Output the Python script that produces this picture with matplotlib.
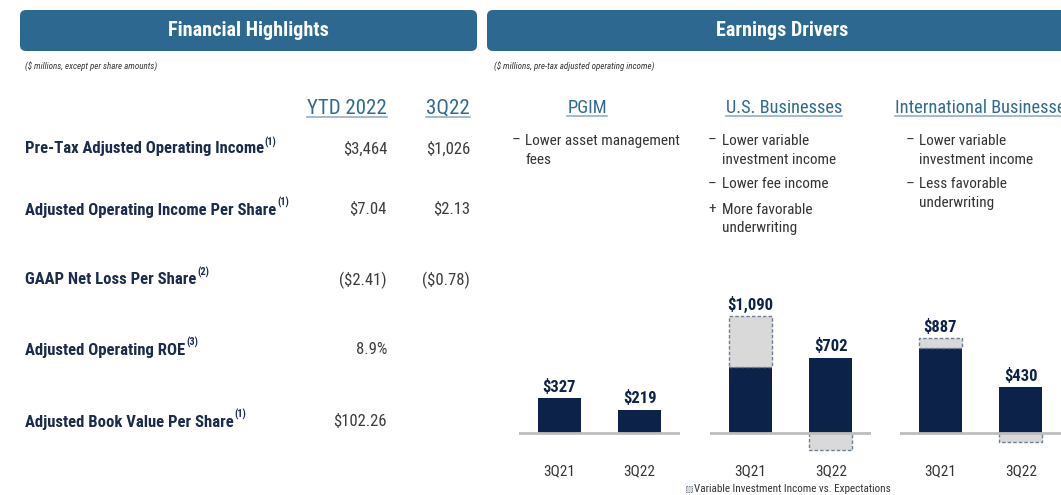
import os
import matplotlib
matplotlib.use("Agg")
import matplotlib.pyplot as plt
from matplotlib import font_manager as fm
from matplotlib.patches import FancyBboxPatch, Rectangle
from matplotlib.lines import Line2D

# ---------- pick a condensed font if one is installed ----------
def _pick_condensed():
    groups = {}
    bad = ("semi", "extra", "ultra", "light", "thin", "medium", "black", "[", "variable")
    for f in fm.fontManager.ttflist:
        b = os.path.basename(f.fname).lower()
        if not ("condensed" in b or "narrow" in b):
            continue
        if any(k in b for k in bad):
            continue
        bold = ("bold" in b) or (isinstance(f.weight, int) and f.weight >= 600)
        ital = ("italic" in b) or ("oblique" in b) or f.style != "normal"
        key = ("b" if bold else "r") + ("i" if ital else "")
        groups.setdefault(f.name + "|" + b.split("-")[0].replace("condensed", "").replace("narrow", ""), {})[key] = f.fname
    order = ["liberation", "roboto", "noto sans", "open sans", "dejavu sans", "lato"]
    best = None
    for pref in order:
        for g, d in groups.items():
            gl = g.lower()
            if gl.startswith(pref) and "cjk" not in gl and "mono" not in gl \
                    and "serif" not in gl and "r" in d and "b" in d:
                best = d
                break
        if best:
            break
    if best is None:
        for g, d in groups.items():
            if "r" in d and "b" in d and "mono" not in g.lower():
                best = d
                break
    return best

_cond = _pick_condensed()
if _cond:
    FP = {"r": fm.FontProperties(fname=_cond["r"]),
          "b": fm.FontProperties(fname=_cond["b"]),
          "i": fm.FontProperties(fname=_cond.get("ri", _cond["r"]))}
else:
    FP = {"r": fm.FontProperties(family="DejaVu Sans"),
          "b": fm.FontProperties(family="DejaVu Sans", weight="bold"),
          "i": fm.FontProperties(family="DejaVu Sans", style="italic")}

# ---------------- data ----------------
metric_labels = ["Pre-Tax Adjusted Operating Income",
                 "Adjusted Operating Income Per Share",
                 "GAAP Net Loss Per Share",
                 "Adjusted Operating ROE",
                 "Adjusted Book Value Per Share"]
metric_notes = ["(1)", "(1)", "(2)", "(3)", "(1)"]
col_headers = ["YTD 2022", "3Q22"]
ytd_values = ["$3,464", "$7.04", "($2.41)", "8.9%", "$102.26"]
q_values = ["$1,026", "$2.13", "($0.78)", "", ""]

segments = ["PGIM", "U.S. Businesses", "International Businesses"]
periods = ["3Q21", "3Q22"]
pgim_income = [327, 219]
us_income = [1090, 702]
intl_income = [887, 430]
pgim_vii = [0, 0]          # variable investment income vs. expectations
us_vii = [475, -160]
intl_vii = [95, -80]

pgim_drivers = [("–", "Lower asset management\nfees")]
us_drivers = [("–", "Lower variable\ninvestment income"),
              ("–", "Lower fee income"),
              ("+", "More favorable\nunderwriting")]
intl_drivers = [("–", "Lower variable\ninvestment income"),
                ("–", "Less favorable\nunderwriting")]

# ---------------- styling ----------------
W, H = 1061, 495
HEAD_BG = "#2D6891"
NAVY = "#0C2248"
LABEL = "#1A2B4C"
VALUE = "#3C3C3C"
LINK = "#2F6B8F"
GREY_FILL = "#D9D9D9"
GREY_EDGE = "#6E7F95"
BASE = "#BDBDBD"


def fp(kind, size):
    p = FP[kind].copy()
    p.set_size(size)
    return p


fig = plt.figure(figsize=(W / 100, H / 100), dpi=100)
bg = fig.add_axes([0, 0, 1, 1])
bg.set_xlim(0, W)
bg.set_ylim(H, 0)
bg.axis("off")

# header bars
for x0, x1, title, cx in [(20, 477, "Financial Highlights", 248),
                          (487, 1075, "Earnings Drivers", 782)]:
    bg.add_patch(FancyBboxPatch((x0, 10), x1 - x0, 41,
                                boxstyle="round,pad=0,rounding_size=6",
                                fc=HEAD_BG, ec="none"))
    bg.text(cx, 31, title, color="white", fontproperties=fp("b", 14.5),
            ha="center", va="center")

bg.text(25, 66, "($ millions, except per share amounts)", fontproperties=fp("i", 6.5),
        color="#333333", va="center")
bg.text(494, 66, "($ millions, pre-tax adjusted operating income)", fontproperties=fp("i", 6.5),
        color="#333333", va="center")

underlined = []

# ---- left table ----
for hx, h in zip([387, 470], col_headers):
    t = bg.text(hx, 108, h, fontproperties=fp("r", 15), color=LINK, ha="right", va="center")
    underlined.append(t)

row_y = [149, 210, 280, 350, 422]
for y, lab, note, v1, v2 in zip(row_y, metric_labels, metric_notes, ytd_values, q_values):
    t = bg.text(25, y, lab, fontproperties=fp("b", 12), color=LABEL,
                ha="left", va="center")
    bg.annotate(note, xy=(1, 0.6), xycoords=t, xytext=(0.5, 0),
                textcoords="offset points", fontproperties=fp("b", 7.5),
                color=LABEL, ha="left", va="bottom")
    bg.text(387, y, v1, fontproperties=fp("r", 12), color=VALUE, ha="right", va="center")
    if v2:
        bg.text(470, y, v2, fontproperties=fp("r", 12), color=VALUE, ha="right", va="center")

# ---- right: segment headings and drivers ----
head_specs = [(587, "center"), (784, "center"), (895, "left")]
driver_specs = [(512, 525, pgim_drivers), (708, 722, us_drivers), (906, 919, intl_drivers)]
for (hx, ha), name in zip(head_specs, segments):
    t = bg.text(hx, 108, name, fontproperties=fp("r", 13.2), color=LINK, ha=ha, va="center")
    underlined.append(t)

line_h = 18.5
for dx, tx, items in driver_specs:
    y = 141
    for sym, txt in items:
        bg.text(dx, y, sym, fontproperties=fp("r", 11), color="#333333", ha="left", va="center")
        lines = txt.split("\n")
        for k, ln in enumerate(lines):
            bg.text(tx, y + k * line_h, ln, fontproperties=fp("r", 11), color="#333333",
                    ha="left", va="center")
        y += line_h * len(lines) + 6.5

# ---- bar panels ----
S = 0.107            # pixels per $M
YMIN, YMAX = -270, 1340
BASE_PX = H - 433
ax_bottom = BASE_PX + YMIN * S
ax_height = (YMAX - YMIN) * S
panel_left = [519, 710, 900]
panel_w = 161
incomes = [pgim_income, us_income, intl_income]
viis = [pgim_vii, us_vii, intl_vii]

for left, inc, vii in zip(panel_left, incomes, viis):
    ax = fig.add_axes([left / W, ax_bottom / H, panel_w / W, ax_height / H])
    ax.set_xlim(-0.5, 1.5)
    ax.set_ylim(YMIN, YMAX)
    ax.patch.set_alpha(0)
    for sp in ax.spines.values():
        sp.set_visible(False)
    ax.set_yticks([])
    xs = list(range(len(periods)))
    core = [v - max(g, 0) for v, g in zip(inc, vii)]
    ax.bar(xs, core, width=0.53, color=NAVY, zorder=2)
    for x, c, g, v in zip(xs, core, vii, inc):
        if g > 0:
            ax.bar(x, g, bottom=c, width=0.53, color=GREY_FILL, ec=GREY_EDGE,
                   lw=1.0, ls=(0, (2.5, 1.5)), zorder=2)
        elif g < 0:
            ax.bar(x, g, bottom=0, width=0.53, color=GREY_FILL, ec=GREY_EDGE,
                   lw=1.0, ls=(0, (2.5, 1.5)), zorder=2)
        ax.annotate(f"${v:,}", xy=(x, v), xytext=(0, 2.5), textcoords="offset points",
                    ha="center", va="bottom", fontproperties=fp("b", 12),
                    color=NAVY)
    ax.axhline(0, color=BASE, lw=2, zorder=3)
    ax.set_xticks(xs)
    ax.set_xticklabels(periods, fontproperties=fp("r", 11), color="#333333")
    ax.tick_params(axis="x", length=0, pad=1.5)

# footnote with legend swatch
bg.add_patch(Rectangle((686, 486), 6, 6, fc=GREY_FILL, ec=GREY_EDGE, lw=0.7, ls=(0, (1.5, 1))))
bg.text(694, 489.5, "Variable Investment Income vs. Expectations", fontproperties=fp("r", 8),
        color="#333333", ha="left", va="center")

# underlines
fig.canvas.draw()
inv = bg.transData.inverted()
for t in underlined:
    bb = t.get_window_extent()
    (x0, y0), (x1, _) = inv.transform([[bb.x0, bb.y0], [bb.x1, bb.y1]])
    x1 = min(x1, W)
    bg.add_line(Line2D([x0, x1], [y0 - 1.0, y0 - 1.0], color="#8FB0C6", lw=1.2))

fig.savefig("out.png", dpi=100)
